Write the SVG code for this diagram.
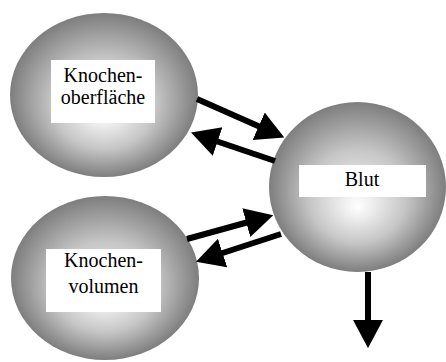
<svg xmlns="http://www.w3.org/2000/svg" width="446" height="362" viewBox="0 0 446 362">
  <style>
    .ball { fill: url(#shade); }
    .label-box { fill: #ffffff; }
    .label { font-family: 'Liberation Serif', 'Times New Roman', serif; font-size: 20px; fill: #000000; text-anchor: middle; }
    .link { stroke: #000000; stroke-width: 6; fill: none; marker-end: url(#head); }
  </style>
  <defs>
    <radialGradient id="shade" cx="50%" cy="50%" r="50%" fx="50%" fy="62%">
      <stop offset="0" stop-color="#ffffff"/>
      <stop offset="0.55" stop-color="#c6c6c6"/>
      <stop offset="1" stop-color="#7e7e7e"/>
    </radialGradient>
    <marker id="head" markerUnits="userSpaceOnUse" markerWidth="32" markerHeight="32" viewBox="0 0 32 32" refX="8" refY="15" orient="auto">
      <path d="M0,0 L28,15 L0,30 Z" fill="#000000"/>
    </marker>
  </defs>

  <g id="knochenoberflaeche">
    <ellipse class="ball" cx="104" cy="95" rx="94" ry="82"/>
    <rect class="label-box" x="51" y="60" width="104" height="63"/>
    <text class="label" x="103" y="82">Knochen-</text>
    <text class="label" x="103" y="104">oberfläche</text>
  </g>

  <g id="knochenvolumen">
    <ellipse class="ball" cx="105" cy="278" rx="94" ry="82"/>
    <rect class="label-box" x="46" y="249" width="115" height="63"/>
    <text class="label" x="103.5" y="267">Knochen-</text>
    <text class="label" x="103.5" y="293">volumen</text>
  </g>

  <g id="blut">
    <ellipse class="ball" cx="357.5" cy="187" rx="88.5" ry="85"/>
    <rect class="label-box" x="299" y="165" width="127" height="32"/>
    <text class="label" x="362" y="186">Blut</text>
  </g>

  <g id="connectors">
    <!-- surface -> blood -->
    <line class="link" x1="197" y1="99" x2="266" y2="129.5"/>
    <!-- blood -> surface -->
    <line class="link" x1="275" y1="161" x2="210" y2="139"/>
    <!-- volume -> blood -->
    <line class="link" x1="187" y1="239" x2="254" y2="220.5"/>
    <!-- blood -> volume -->
    <line class="link" x1="281" y1="234" x2="215" y2="255.5"/>
    <!-- blood -> out -->
    <line class="link" x1="368" y1="272" x2="368" y2="328"/>
  </g>
</svg>
